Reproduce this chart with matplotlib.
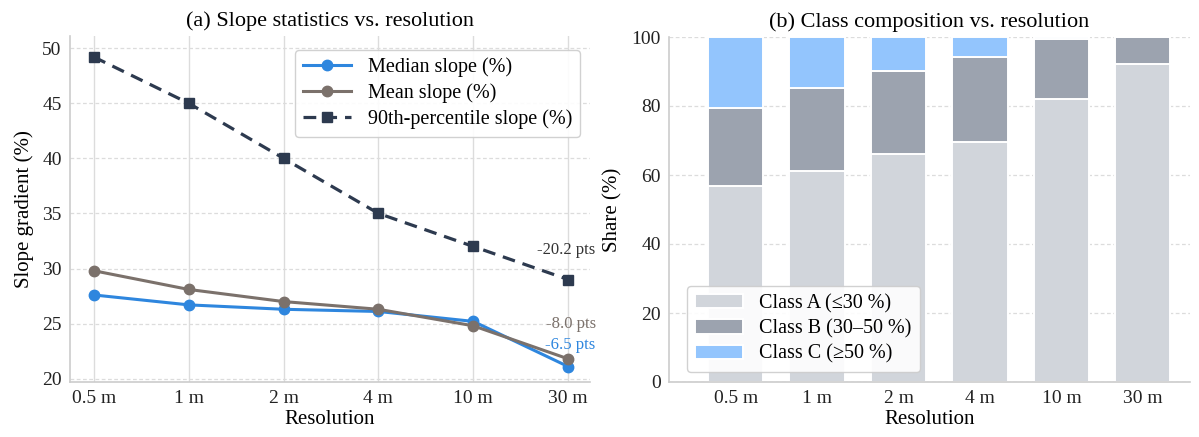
import numpy as np
import matplotlib
matplotlib.use("Agg")
import matplotlib.pyplot as plt

plt.rcParams['font.family'] = ['Liberation Serif', 'DejaVu Serif']
plt.rcParams['font.size'] = 14

resolutions = ["0.5 m", "1 m", "2 m", "4 m", "10 m", "30 m"]
median_slope = [27.6, 26.7, 26.3, 26.1, 25.2, 21.1]
mean_slope = [29.8, 28.1, 27.0, 26.3, 24.8, 21.8]
p90_slope = [49.2, 45.0, 40.0, 35.0, 32.0, 29.0]

class_a = [56.7, 61.2, 66.1, 69.7, 82.0, 92.1]
class_b = [22.6, 23.9, 24.0, 24.6, 17.3, 7.9]
class_c = [20.7, 14.9, 9.9, 5.7, 0.7, 0.0]

c_med = "#2e86de"
c_mean = "#7b716b"
c_p90 = "#2d3a4f"
c_a = "#d1d5db"
c_b = "#9ca3af"
c_c = "#93c5fd"
grid_c = "#dcdcdc"
spine_c = "#cccccc"

fig = plt.figure(figsize=(11.99, 4.37), dpi=100)
ax1 = fig.add_axes([70/1199, 1-382/437, 520/1199, 346/437])
ax2 = fig.add_axes([669/1199, 1-382/437, 521/1199, 345/437])

x = np.arange(len(resolutions))

# (a) lines
ax1.plot(x, median_slope, color=c_med, lw=2.2, marker="o", ms=7.5, label="Median slope (%)", zorder=3)
ax1.plot(x, mean_slope, color=c_mean, lw=2.2, marker="o", ms=7.5, label="Mean slope (%)", zorder=3)
ax1.plot(x, p90_slope, color=c_p90, lw=2.3, ls=(0, (4, 2.5)), marker="s", ms=7.5,
         label="90th-percentile slope (%)", zorder=3)

ax1.set_xlim(-0.25, 5.23)
ax1.set_ylim(19.7, 51.1)
ax1.set_yticks([20, 25, 30, 35, 40, 45, 50])
ax1.set_xticks(x)
ax1.set_xticklabels(resolutions)
ax1.grid(axis="x", color=grid_c, lw=1, ls="-")
ax1.grid(axis="y", color=grid_c, lw=0.9, ls=(0, (3, 2)))
ax1.set_axisbelow(True)
ax1.set_title("(a) Slope statistics vs. resolution", fontsize=16, pad=7)
ax1.set_xlabel("Resolution", fontsize=15, labelpad=2)
ax1.set_ylabel("Slope gradient (%)", fontsize=15, labelpad=6)

# change labels at the 30 m end
ax1.text(5.29, 31.7, f"{p90_slope[-1]-p90_slope[0]:.1f} pts", color="#333333", fontsize=12, ha="right", va="center")
ax1.text(5.29, 25.0, f"{mean_slope[-1]-mean_slope[0]:.1f} pts", color=c_mean, fontsize=12, ha="right", va="center")
ax1.text(5.29, 23.1, f"{median_slope[-1]-median_slope[0]:.1f} pts", color=c_med, fontsize=12, ha="right", va="center")

leg1 = ax1.legend(loc="upper right", frameon=True, fontsize=14.5, borderpad=0.4, handlelength=2.4,
                  labelspacing=0.3, bbox_to_anchor=(1.0, 0.99))
leg1.get_frame().set_edgecolor("#cccccc")
leg1.get_frame().set_alpha(0.9)

# (b) stacked bars
w = 0.68
bottom_b = np.array(class_a)
bottom_c = bottom_b + np.array(class_b)
ax2.bar(x, class_a, w, color=c_a, edgecolor="white", lw=1.4, label="Class A (≤30 %)")
ax2.bar(x, class_b, w, bottom=bottom_b, color=c_b, edgecolor="white", lw=1.4, label="Class B (30–50 %)")
ax2.bar(x, class_c, w, bottom=bottom_c, color=c_c, edgecolor="white", lw=1.4, label="Class C (≥50 %)")

ax2.set_xlim(-0.82, 5.58)
ax2.set_ylim(0, 100)
ax2.set_yticks([0, 20, 40, 60, 80, 100])
ax2.set_xticks(x)
ax2.set_xticklabels(resolutions)
ax2.grid(axis="y", color=grid_c, lw=0.9, ls=(0, (3, 2)))
ax2.set_axisbelow(True)
ax2.set_title("(b) Class composition vs. resolution", fontsize=16, pad=7)
ax2.set_xlabel("Resolution", fontsize=15, labelpad=2)
ax2.set_ylabel("Share (%)", fontsize=15, labelpad=6)
leg2 = ax2.legend(loc="lower left", frameon=True, fontsize=14.5, borderpad=0.4, handlelength=2.4,
                  labelspacing=0.3, bbox_to_anchor=(0.015, 0.0))
leg2.get_frame().set_edgecolor("#cccccc")
leg2.get_frame().set_alpha(0.9)

for ax in (ax1, ax2):
    for s in ("top", "right"):
        ax.spines[s].set_visible(False)
    for s in ("left", "bottom"):
        ax.spines[s].set_color(spine_c)
        ax.spines[s].set_linewidth(1.2)
    ax.tick_params(length=0, colors="#222222", labelsize=14, pad=6)

fig.savefig("out.png", dpi=100)
